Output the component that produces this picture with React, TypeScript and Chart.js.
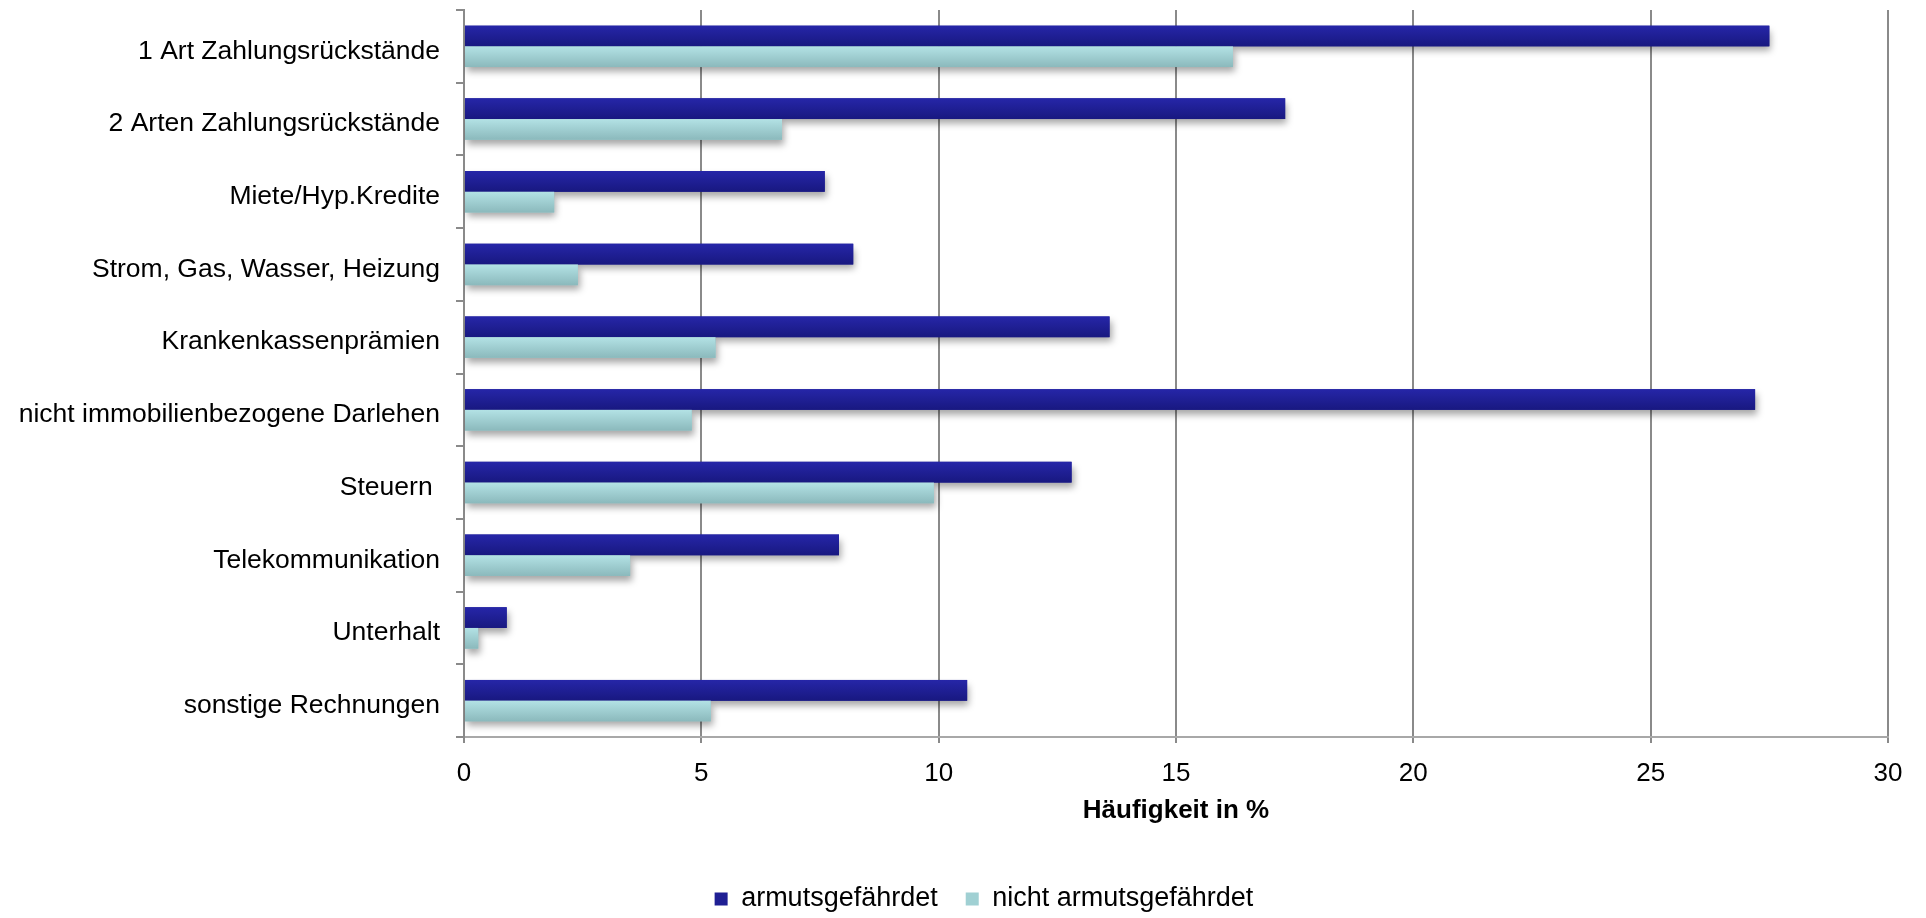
import React, { useEffect, useRef } from "react";
import { Chart, registerables } from "chart.js";

Chart.register(...registerables);

const categories = [
  "1 Art Zahlungsrückstände",
  "2 Arten Zahlungsrückstände",
  "Miete/Hyp.Kredite",
  "Strom, Gas, Wasser, Heizung",
  "Krankenkassenprämien",
  "nicht immobilienbezogene Darlehen",
  "Steuern ",
  "Telekommunikation",
  "Unterhalt",
  "sonstige Rechnungen",
];
const armutsgefaehrdet = [27.5, 17.3, 7.6, 8.2, 13.6, 27.2, 12.8, 7.9, 0.9, 10.6];
const nichtArmutsgefaehrdet = [16.2, 6.7, 1.9, 2.4, 5.3, 4.8, 9.9, 3.5, 0.3, 5.2];
const seriesNames = ["armutsgefährdet", "nicht armutsgefährdet"];
const xTicks = [0, 5, 10, 15, 20, 25, 30];
const axisTitle = "Häufigkeit in %";

const FONT = "'Liberation Sans', Arial, Helvetica, sans-serif";
const gradStops = [
  ["#2626a8", "#181880"],
  ["#b3e2e5", "#8bb9bc"],
];

const shadowPlugin = {
  id: "barShadow",
  afterLayout(chart: any) {
    const lg = chart.legend;
    if (lg) {
      lg.left += 40;
      lg.right += 40;
    }
  },
  beforeDatasetsDraw(chart: any) {
    const ctx = chart.ctx;
    ctx.save();
    ctx.shadowColor = "rgba(0,0,0,0.35)";
    ctx.shadowBlur = 7;
    ctx.shadowOffsetX = 2;
    ctx.shadowOffsetY = 5;
  },
  afterDatasetsDraw(chart: any) {
    const ctx = chart.ctx;
    ctx.restore();
    chart.data.datasets.forEach((_ds: any, di: number) => {
      const meta = chart.getDatasetMeta(di);
      meta.data.forEach((bar: any) => {
        const p = bar.getProps(["x", "y", "base", "height"], true);
        const top = p.y - p.height / 2;
        const g = ctx.createLinearGradient(0, top, 0, top + p.height);
        g.addColorStop(0, gradStops[di][0]);
        g.addColorStop(1, gradStops[di][1]);
        ctx.save();
        ctx.fillStyle = g;
        ctx.fillRect(p.base, top, p.x - p.base, p.height);
        ctx.restore();
      });
    });
  },
};

export default function App() {
  const ref = useRef<HTMLCanvasElement>(null);
  useEffect(() => {
    document.body.style.margin = "0";
    const c = ref.current!;
    const chart = new Chart(c, {
      type: "bar",
      data: {
        labels: categories,
        datasets: [
          {
            label: seriesNames[0],
            data: armutsgefaehrdet,
            backgroundColor: "#1f1f94",
            borderWidth: 0,
            categoryPercentage: 0.57,
            barPercentage: 1,
          },
          {
            label: seriesNames[1],
            data: nichtArmutsgefaehrdet,
            backgroundColor: "#a0d0d3",
            borderWidth: 0,
            categoryPercentage: 0.57,
            barPercentage: 1,
          },
        ],
      },
      options: {
        indexAxis: "y",
        animation: false,
        responsive: false,
        maintainAspectRatio: false,
        devicePixelRatio: 1,
        layout: { padding: { top: 10, left: 0, right: 38, bottom: -4.5 } },
        plugins: {
          tooltip: { enabled: false },
          legend: {
            position: "bottom",
            labels: {
              boxWidth: 13,
              boxHeight: 13,
              padding: 28,
              color: "#000",
              font: { family: FONT, size: 27 },
            },
          },
        },
        scales: {
          x: {
            type: "linear",
            min: 0,
            max: 30,
            afterBuildTicks: (s: any) => {
              s.ticks = xTicks.map((v) => ({ value: v }));
            },
            afterFit: (s: any) => {
              s.height = 120.5;
              s.paddingLeft = 0;
              s.paddingRight = 0;
            },
            ticks: {
              color: "#000",
              padding: 15,
              font: { family: FONT, size: 26 },
            },
            grid: {
              color: "#8a8a8a",
              lineWidth: 2,
              tickLength: 6,
              drawTicks: true,
            },
            border: { display: true, color: "#a8a8a8", width: 2 },
            title: {
              display: true,
              text: axisTitle,
              color: "#000",
              font: { family: FONT, size: 26, weight: "bold" },
              padding: { top: 6, bottom: 31 },
            },
          },
          y: {
            afterFit: (s: any) => {
              s.width = 464;
              s.paddingTop = 0;
              s.paddingBottom = 0;
            },
            ticks: {
              color: "#000",
              padding: 16,
              labelOffset: 5,
              font: { family: FONT, size: 26.5 },
            },
            grid: {
              display: true,
              drawOnChartArea: false,
              drawTicks: true,
              tickLength: 8,
              color: "#8a8a8a",
              lineWidth: 2,
              offset: true,
            },
            border: { display: true, color: "#8a8a8a", width: 2 },
          },
        },
      },
      plugins: [shadowPlugin],
    } as any);
    return () => chart.destroy();
  }, []);
  return (
    <div style={{ width: 1926, height: 918, background: "#fff" }}>
      <canvas ref={ref} width={1926} height={918} style={{ width: 1926, height: 918, display: "block" }} />
    </div>
  );
}
